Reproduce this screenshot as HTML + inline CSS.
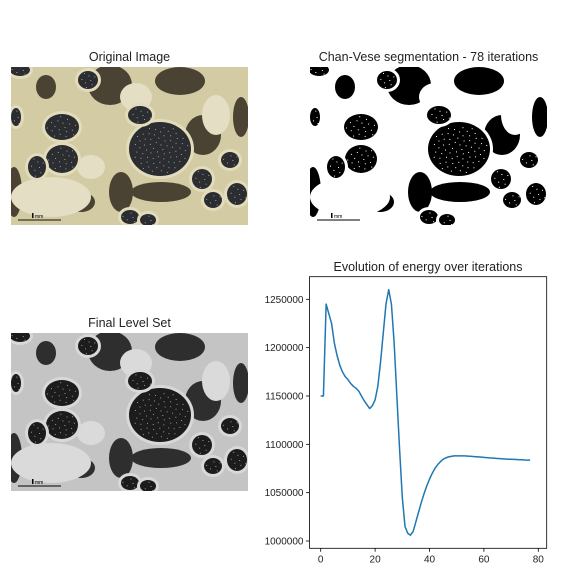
<!DOCTYPE html>
<html><head><meta charset="utf-8"><style>
html,body{margin:0;padding:0;background:#fff;}
svg{display:block;font-family:"Liberation Sans","DejaVu Sans",sans-serif;}
</style></head><body>
<svg id="fig" width="576" height="576" viewBox="0 0 576 576">
<defs><clipPath id="imgclip"><rect x="0" y="0" width="237" height="158"/></clipPath></defs>
<rect width="576" height="576" fill="#fff"/>
<text x="129.5" y="61" font-size="12.5" text-anchor="middle" fill="#222">Original Image</text>
<text x="428.5" y="61" font-size="12.5" text-anchor="middle" fill="#222">Chan-Vese segmentation - 78 iterations</text>
<text x="129.5" y="327" font-size="12.5" text-anchor="middle" fill="#222">Final Level Set</text>
<text x="428" y="271" font-size="12.5" text-anchor="middle" fill="#222">Evolution of energy over iterations</text>
<g transform="translate(11,67)"><g id="img1" clip-path="url(#imgclip)"></g></g>
<g transform="translate(310,67)"><g id="img2" clip-path="url(#imgclip)"></g></g>
<g transform="translate(11,333)"><g id="img3" clip-path="url(#imgclip)"></g></g>
<g id="chart"></g>
</svg>
<script>
const iterations = [];
const energy = [1150000,1150000,1245000,1235000,1225000,1205000,1192000,1182000,1175000,1170000,
1167000,1163000,1160000,1158000,1155000,1150000,1145000,1141000,1137000,1140000,
1146000,1160000,1185000,1215000,1245000,1260000,1245000,1205000,1150000,1095000,
1045000,1015000,1008000,1006000,1010000,1020000,1030000,1040000,1049000,1057000,
1064000,1070000,1075000,1079000,1082000,1084500,1086000,1087000,1087500,1088000,
1088000,1088000,1088000,1088000,1087800,1087600,1087400,1087200,1087000,1086800,
1086500,1086300,1086000,1085800,1085600,1085400,1085200,1085000,1084800,1084600,
1084500,1084400,1084300,1084100,1084000,1083800,1083700,1083600];
for (let i = 0; i < energy.length; i++) iterations.push(i);
const xTicks = [0,20,40,60,80];
const yTicks = [1000000,1050000,1100000,1150000,1200000,1250000];

const NS = "http://www.w3.org/2000/svg";
function mk(tag, attrs, parent){const e=document.createElementNS(NS,tag);for(const k in attrs)e.setAttribute(k,attrs[k]);parent.appendChild(e);return e;}

const L=309.5,R=546.7,T=276.7,B=548.3;
const xs=v=>320.7+(v-0)*(538.3-320.7)/80;
const ys=v=>541-(v-1000000)*(541-299.3)/250000;
const ch=document.getElementById('chart');
const frame=mk('rect',{x:L,y:T,width:R-L,height:B-T,fill:'none',stroke:'#000','stroke-width':0.8},ch);


xTicks.forEach(t=>{
  const ln=mk('line',{x1:xs(t),x2:xs(t),y1:B,y2:B+3.5,stroke:'#000','stroke-width':0.8},ch);
  
  
  const tx=mk('text',{x:xs(t),y:B+14,'font-size':10,'text-anchor':'middle',fill:'#222'},ch);
  tx.textContent=t;
  
  
});
yTicks.forEach(t=>{
  const ln=mk('line',{x1:L-3.5,x2:L,y1:ys(t),y2:ys(t),stroke:'#000','stroke-width':0.8},ch);
  
  
  const tx=mk('text',{x:L-6,y:ys(t)+3.5,'font-size':10,'text-anchor':'end',fill:'#222'},ch);
  tx.textContent=t;
  
  
});
const line=mk('polyline',{points:iterations.map((x,i)=>xs(x).toFixed(2)+','+ys(energy[i]).toFixed(2)).join(' '),fill:'none',stroke:'#1f77b4','stroke-width':1.5,'stroke-linejoin':'round'},ch);



const cups=[[149,82,31,27],[51,60,17,13],[51,92,16,14],[77,13,10,9],[129,48,12,9],[26,100,9,11],[191,112,10,10],[202,133,9,8],[226,127,10,11],[219,93,9,8],[119,150,9,7],[137,153,8,6],[9,3,10,6],[5,50,5,9]];
const shadows=[[99,18,22,20],[169,14,25,14],[192,68,18,20],[110,125,12,20],[70,135,14,10],[3,125,8,25],[230,50,8,20],[150,125,30,10],[35,20,10,12]];
const lights=[[40,130,40,20],[205,48,14,20],[125,30,16,14],[80,100,14,12]];
function scene(id,bg,sh,rim,inner,speck,lit,bar){
  const g=document.getElementById(id);
  mk('rect',{x:0,y:0,width:237,height:158,fill:bg},g);
  shadows.forEach(s=>mk('ellipse',{cx:s[0],cy:s[1],rx:s[2],ry:s[3],fill:sh},g));
  lights.forEach(s=>mk('ellipse',{cx:s[0],cy:s[1],rx:s[2],ry:s[3],fill:lit},g));
  cups.forEach(c=>{
    mk('ellipse',{cx:c[0],cy:c[1],rx:c[2]+3,ry:c[3]+3,fill:rim},g);
    mk('ellipse',{cx:c[0],cy:c[1],rx:c[2],ry:c[3],fill:inner},g);
    const n=Math.round(c[2]*c[3]/12);
    for(let k=0;k<n;k++){
      const a=(k*2.39996)%(2*Math.PI), r=Math.sqrt((k+0.5)/n)*0.9;
      mk('rect',{x:c[0]+Math.cos(a)*r*c[2],y:c[1]+Math.sin(a)*r*c[3],width:1,height:1,fill:speck},g);
    }
  });
  mk('line',{x1:7,x2:50,y1:153,y2:153,stroke:bar,'stroke-width':1},g);
  mk('rect',{x:21,y:146,width:1.5,height:5,fill:bar},g);
  const t=mk('text',{x:24,y:151,'font-size':5,fill:bar},g);t.textContent='mm';
}
scene('img1','#d2cba3','#4a4232','#e2dcbc','#2b2d31','#9aa0a6','#e4dfc4','#111');
scene('img2','#ffffff','#000000','#ffffff','#000000','#ffffff','#ffffff','#000');
scene('img3','#c4c4c4','#2e2e2e','#d8d8d8','#1c1c1c','#9a9a9a','#dadada','#000');
</script>
</body></html>
